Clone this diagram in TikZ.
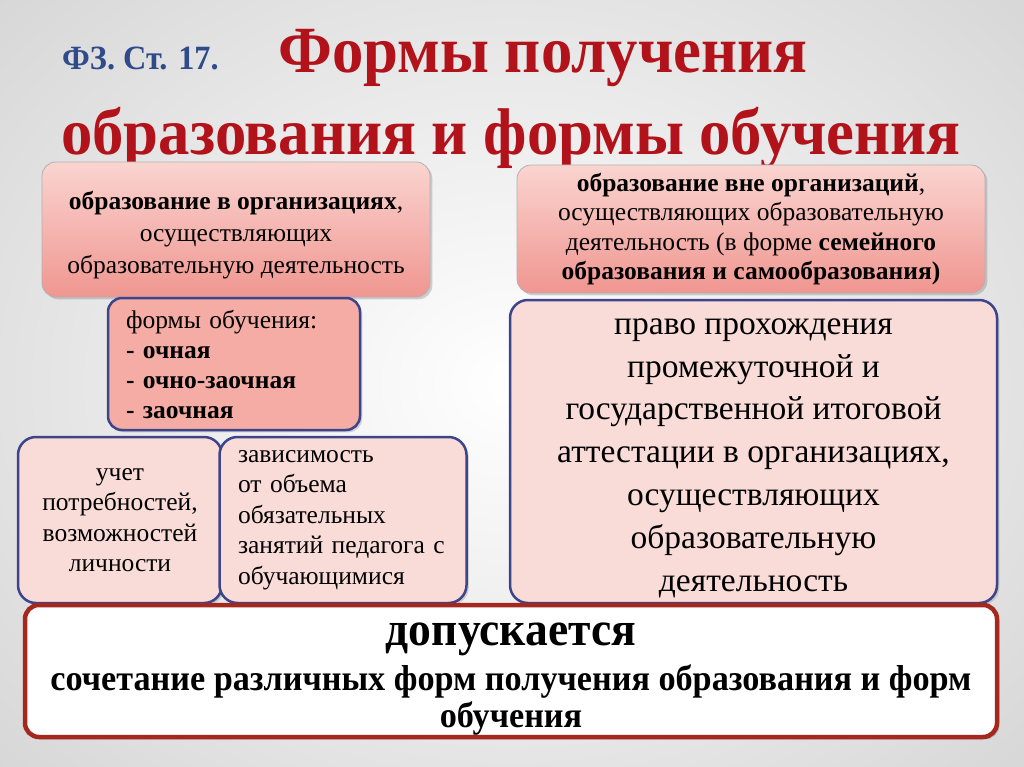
\documentclass[tikz,border=0pt]{standalone}
\usepackage{fontspec}
\setmainfont{Liberation Serif}
\newfontfamily\condfont[FakeStretch=0.95]{Liberation Serif}
\usetikzlibrary{shadows}
\definecolor{navy}{RGB}{60,68,140}
\definecolor{lpink}{RGB}{249,220,216}
\definecolor{mpink}{RGB}{244,172,164}
\definecolor{tpinktop}{RGB}{250,212,208}
\definecolor{tpinkbot}{RGB}{240,150,144}
\definecolor{dred}{RGB}{165,40,30}
\definecolor{titlered}{RGB}{178,18,26}
\definecolor{titleblue}{RGB}{47,75,138}
\tikzset{
  topbox/.style={draw=gray!60, line width=0.8pt, rounded corners=14pt, top color=tpinktop, bottom color=tpinkbot, drop shadow={opacity=0.35}, align=center, inner sep=0pt},
  bluebox/.style={draw=navy, line width=2.5pt, rounded corners=18pt, fill=lpink, drop shadow={opacity=0.3}, inner sep=0pt},
  midbox/.style={draw=navy, line width=2.5pt, rounded corners=14pt, fill=mpink, drop shadow={opacity=0.3}, inner sep=0pt},
  redbox/.style={draw=dred, line width=4.5pt, rounded corners=14pt, fill=white, drop shadow={opacity=0.4}, inner sep=0pt},
  ttl/.style={text=titlered, anchor=base, inner sep=0pt, font=\condfont\bfseries\fontsize{66}{72}\selectfont},
  small/.style={font=\fontsize{25.5}{#1}\selectfont},
  btxt/.style={anchor=base, inner sep=0pt, font=\condfont\bfseries\fontsize{#1}{#1}\selectfont},
}
\begin{document}
\begin{tikzpicture}[x=1pt,y=-1pt]
\useasboundingbox (0,0) rectangle (1024,767);
\shade[inner color=white, outer color=gray!32] (-200,-200) rectangle (1224,967);
% title
\node[anchor=base west, inner sep=0pt, text=titleblue, font=\condfont\bfseries\fontsize{34}{36}\selectfont] (law) at (62,70) {ФЗ. Ст. 17.};
\node[ttl] (t1) at (543,73) {Формы получения};
\node[ttl] (t2) at (511,155) {образования и формы обучения};
% top boxes
\node[topbox, minimum width=388pt, minimum height=135pt, small=32] (org) at (236,229.5) {\rule{0pt}{30pt}\textbf{образование в организациях},\\осуществляющих\\образовательную деятельность};
\node[topbox, minimum width=468pt, minimum height=128pt, small=29.5] (nonorg) at (751,229) {\textbf{образование вне организаций},\\осуществляющих образовательную\\деятельность (в форме \textbf{семейного}\\\textbf{образования и самообразования)}};
% middle
\node[midbox, minimum width=252pt, minimum height=132pt, text width=216pt, align=left, small=30] (forms) at (234,364) {формы обучения:\\\textbf{- очная}\\\textbf{- очно-заочная}\\\textbf{- заочная}};
\node[bluebox, minimum width=204pt, minimum height=166pt, align=center, small=30.5] (needs) at (120,520) {учет\\потребностей,\\возможностей\\личности};
\node[bluebox, minimum width=247pt, minimum height=166pt, text width=210pt, align=left, small=30.5] (dep) at (343,520) {зависимость\\от объема\\обязательных\\занятий педагога с\\обучающимися};
\node[bluebox, minimum width=487pt, minimum height=303pt] (right) at (753.5,451.5) {};
\node[align=center, inner sep=0pt, font=\fontsize{33.5}{42.8}\selectfont] (righttxt) at (753.5,458) {право прохождения\\промежуточной и\\государственной итоговой\\аттестации в организациях,\\осуществляющих\\образовательную\\деятельность};
% bottom
\node[redbox, minimum width=972pt, minimum height=132pt] (allow) at (511,671) {};
\node[btxt=48] (allowa) at (511,645) {допускается};
\node[btxt=36] (allowb) at (511,690) {сочетание различных форм получения образования и форм};
\node[btxt=36] (allowc) at (511,727) {обучения};
\end{tikzpicture}
\end{document}
